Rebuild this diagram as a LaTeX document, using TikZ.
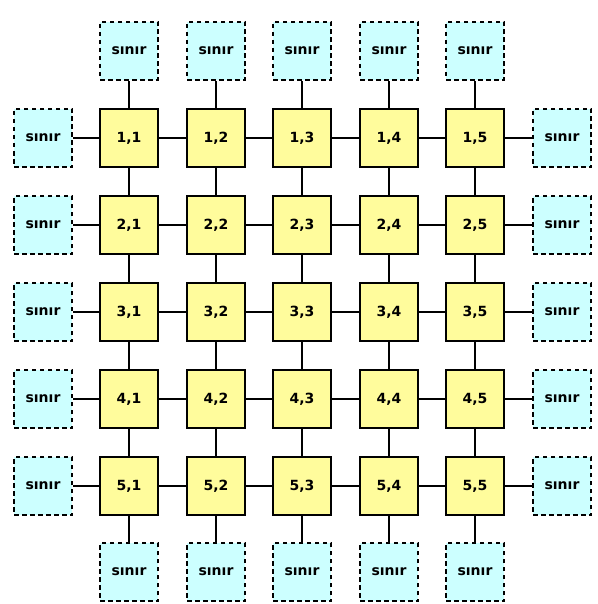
\documentclass[tikz,border=0pt]{standalone}
\usepackage{fontspec}
\setmainfont{DejaVu Sans}
\definecolor{cellfill}{RGB}{255,252,156}
\definecolor{edgefill}{RGB}{204,255,255}
\begin{document}
\begin{tikzpicture}[x=1pt,y=-1pt,
  cell/.style={draw=black,line width=2pt,fill=cellfill,minimum size=58pt,inner sep=0pt,font=\fontsize{14pt}{16pt}\selectfont\bfseries},
  edgebox/.style={draw=black,line width=2pt,dash pattern=on 4.5pt off 3.5pt,fill=edgefill,minimum size=58pt,inner sep=0pt,font=\fontsize{14pt}{16pt}\selectfont\bfseries},
  link/.style={line width=2pt}]
\fill[white] (0,0) rectangle (597,604);
\useasboundingbox (0,0) rectangle (597,604);
\def\colx{{0,129,216,302,389,475}}
\def\rowy{{0,138,225,312,399,486}}
\foreach \i in {1,...,5}{
  \foreach \j in {1,...,5}{
    \node[cell] (n-\i-\j) at ({\colx[\j]},{\rowy[\i]}) {\i,\j};
  }
}
\foreach \j in {1,...,5}{
  \node[edgebox] (t-\j) at ({\colx[\j]},51) {sınır};
  \node[edgebox] (b-\j) at ({\colx[\j]},572) {sınır};
}
\foreach \i in {1,...,5}{
  \node[edgebox] (l-\i) at (43,{\rowy[\i]}) {sınır};
  \node[edgebox] (r-\i) at (562,{\rowy[\i]}) {sınır};
}
\foreach \i in {1,...,5}{
  \draw[link] (l-\i) -- (n-\i-1);
  \draw[link] (n-\i-5) -- (r-\i);
  \draw[link] (t-\i) -- (n-1-\i);
  \draw[link] (n-5-\i) -- (b-\i);
  \foreach \j [evaluate=\j as \k using int(\j+1)] in {1,...,4}{
    \draw[link] (n-\i-\j) -- (n-\i-\k);
    \draw[link] (n-\j-\i) -- (n-\k-\i);
  }
}
\end{tikzpicture}
\end{document}
